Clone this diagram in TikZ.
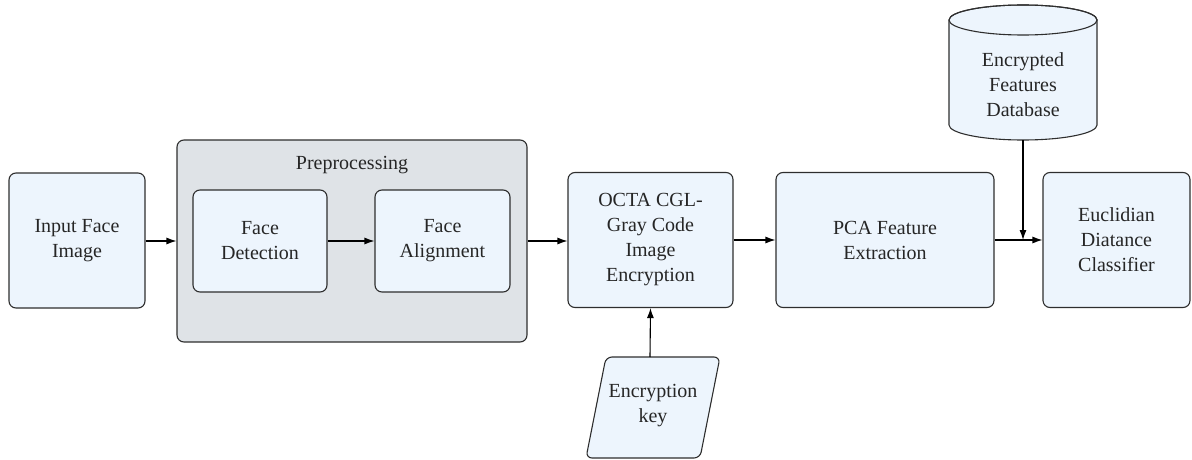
\documentclass[tikz,border=0pt]{standalone}
\usepackage{fontspec}
\setmainfont{Liberation Serif}
\usetikzlibrary{arrows.meta}
\definecolor{boxfill}{HTML}{EDF5FD}
\definecolor{grpfill}{HTML}{DFE3E7}
\definecolor{edge}{HTML}{2E2E2E}
\begin{document}
\begin{tikzpicture}[x=1pt,y=-1pt,
  box/.style={draw=edge, fill=boxfill, rounded corners=7pt, line width=1.1pt, align=center, inner sep=0pt,
    font=\fontsize{20}{25}\selectfont, text=black!85},
  grpbox/.style={draw=edge, fill=grpfill, rounded corners=7pt, line width=1.1pt, inner sep=0pt},
  lbl/.style={align=center, inner sep=0pt, font=\fontsize{20}{25}\selectfont, text=black!85},
  conn/.style={draw=black, line width=1.1pt, -{Latex[length=10pt,width=7pt]}}]
\useasboundingbox (0,0) rectangle (1192,460);
% group
\node[grpbox, minimum width=350pt, minimum height=202pt] (grp) at (352,241) {};
\node[lbl] (grplbl) at (352,165) {Preprocessing};
% boxes
\node[box, minimum width=136pt, minimum height=135pt] (in) at (77,240.5) {Input Face\\Image};
\node[box, minimum width=134pt, minimum height=102pt] (det) at (260,241) {Face\\Detection};
\node[box, minimum width=135pt, minimum height=102pt] (ali) at (442.5,241) {Face\\Alignment};
\node[box, minimum width=165pt, minimum height=135pt] (octa) at (650.5,240) {OCTA CGL-\\Gray Code\\Image\\Encryption};
\node[box, minimum width=218pt, minimum height=135pt] (pca) at (885,240) {PCA Feature\\Extraction};
\node[box, minimum width=147pt, minimum height=135pt] (euc) at (1116.5,240) {Euclidian\\Diatance\\Classifier};
% database cylinder
\path[draw=edge, fill=boxfill, line width=1.1pt] (949,20) -- (949,125)
  arc[start angle=180, end angle=0, x radius=74, y radius=15] -- (1097,20)
  arc[start angle=0, end angle=-180, x radius=74, y radius=15] -- cycle;
\draw[edge, line width=1.1pt] (1023,20) ellipse [x radius=74, y radius=15];
\node[lbl] (db) at (1023,85) {Encrypted\\Features\\Database};
\coordinate (dbbot) at (1023,140);
% encryption key parallelogram
\draw[draw=edge, fill=boxfill, line width=1.1pt, rounded corners=6pt]
  (606,357) -- (720,357) -- (700,458) -- (586,458) -- cycle;
\node[lbl] (key) at (653,406) {Encryption\\key};
\coordinate (keytop) at (650,357);
% connectors
\coordinate (join) at (1023,240);
\draw[conn] (in.east |- 0,241) -- (grp.west |- 0,241);
\draw[conn] (det.east) -- (ali.west);
\draw[conn] (grp.east |- 0,241) -- (octa.west |- 0,241);
\draw[conn] (octa.east) -- (pca.west);
\draw[conn] (pca.east) -- (euc.west);
\draw[conn] (dbbot) -- (join);
\draw[conn] (keytop) -- (octa.south);
\end{tikzpicture}
\end{document}
